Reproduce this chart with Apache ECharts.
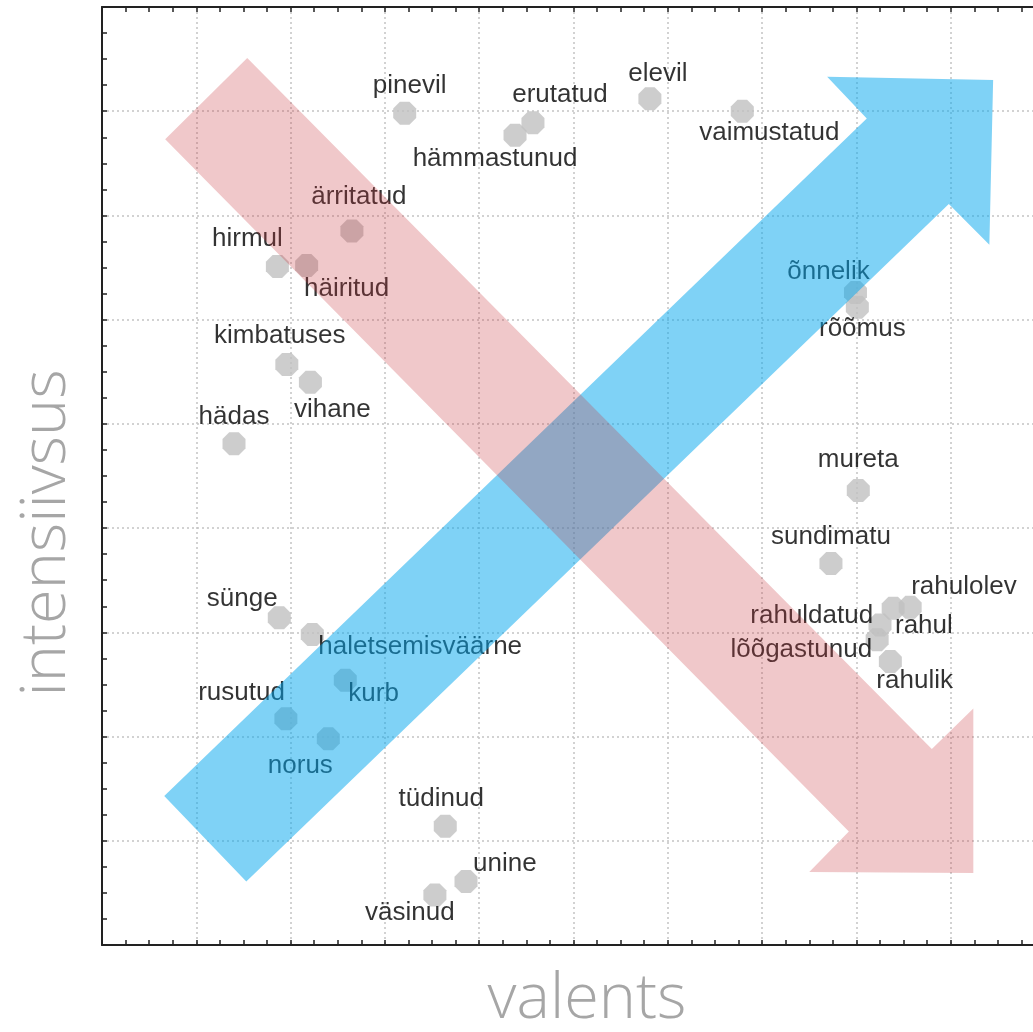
<!DOCTYPE html>
<html>
<head>
<meta charset="utf-8">
<script src="https://cdn.jsdelivr.net/npm/echarts@6/dist/echarts.min.js"></script>
<style>
  html, body { margin: 0; padding: 0; background: #fff; }
  #chart { width: 1033px; height: 1032px; }
</style>
</head>
<body>
<div id="chart"></div>
<script>
// emotion words, valence (x) and intensity (y)
const words = ['pinevil', 'erutatud', 'hämmastunud', 'elevil', 'vaimustatud', 'ärritatud', 'hirmul', 'häiritud',
  'kimbatuses', 'vihane', 'hädas', 'õnnelik', 'rõõmus', 'mureta', 'sundimatu', 'rahulolev', 'rahuldatud', 'rahul',
  'lõõgastunud', 'rahulik', 'sünge', 'haletsemisväärne', 'kurb', 'rusutud', 'norus', 'tüdinud', 'unine', 'väsinud']
const valence = [3.21, 4.57, 4.38, 5.81, 6.79, 2.65, 1.86, 2.17,
  1.96, 2.21, 1.40, 7.99, 8.01, 8.02, 7.73, 8.57, 8.39, 8.25,
  8.22, 8.36, 1.88, 2.23, 2.58, 1.95, 2.40, 3.64, 3.86, 3.53]
const intensity = [7.98, 7.89, 7.77, 8.12, 8.00, 6.85, 6.51, 6.52,
  5.57, 5.40, 4.81, 6.26, 6.12, 4.36, 3.66, 3.24, 3.23, 3.07,
  2.93, 2.72, 3.14, 2.98, 2.54, 2.17, 1.98, 1.14, 0.61, 0.48]

// the two arrows, outline in data units
const blueArrow = [[0.66, 1.43], [8.11, 7.93], [7.69, 8.33], [9.45, 8.30], [9.41, 6.72], [8.98, 7.11], [1.53, 0.61]]
const pinkArrow = [[0.67, 7.73], [1.54, 8.51], [8.80, 1.88], [9.24, 2.27], [9.24, 0.69], [7.50, 0.70], [7.92, 1.09]]

// label placement: [align, dx, dy] from point centre
const labelPlace = {
  'pinevil': ['center', 5, -27], 'erutatud': ['center', 27, -28], 'hämmastunud': ['center', -20, 24],
  'elevil': ['center', 8, -25], 'vaimustatud': ['center', 27, 22], 'ärritatud': ['center', 7, -34],
  'hirmul': ['center', -30, -28], 'häiritud': ['center', 40, 23], 'kimbatuses': ['center', -7, -29],
  'vihane': ['center', 22, 28], 'hädas': ['center', 0, -27], 'õnnelik': ['center', -27, -21],
  'rõõmus': ['center', 5, 22], 'mureta': ['center', 0, -31], 'sundimatu': ['center', 0, -27],
  'rahulolev': ['left', 1, -20], 'rahuldatud': ['right', -20, 7], 'rahul': ['left', 15, 1],
  'lõõgastunud': ['right', -5, 10], 'rahulik': ['left', -14, 19], 'sünge': ['center', -37, -19],
  'haletsemisväärne': ['left', 6, 12], 'kurb': ['left', 3, 14], 'rusutud': ['right', -1, -26],
  'norus': ['center', -28, 27], 'tüdinud': ['center', -4, -27], 'unine': ['left', 7, -18],
  'väsinud': ['center', -25, 18]
}

const octagon = 'path://M29.3,0L70.7,0L100,29.3L100,70.7L70.7,100L29.3,100L0,70.7L0,29.3Z'

const points = words.map((w, i) => {
  const p = labelPlace[w]
  return {
    name: w,
    value: [valence[i], intensity[i]],
    label: { align: p[0], offset: [p[1], p[2]] }
  }
})

const chart = echarts.init(document.getElementById('chart'))

const axisBase = {
  type: 'value',
  axisLine: { show: true, onZero: false, lineStyle: { color: '#222', width: 2 } },
  axisTick: { show: true, inside: true, length: 5, lineStyle: { color: '#222', width: 1.5 } },
  minorTick: { show: true, splitNumber: 4, length: 5, lineStyle: { color: '#222', width: 1.5 } },
  axisLabel: { show: false }
}
const gridLine = { show: true, lineStyle: { color: '#c4c4c4', type: [2, 3], width: 1.5 } }

const option = {
  animation: false,
  backgroundColor: '#fff',
  grid: { left: 102, top: 7, width: 943, height: 938, outerBoundsMode: 'none', containLabel: false },
  xAxis: [
    Object.assign({}, axisBase, { min: 0, max: 10, interval: 1, position: 'bottom', splitLine: gridLine }),
    Object.assign({}, axisBase, { min: 0, max: 10, interval: 1, position: 'top', splitLine: { show: false } })
  ],
  yAxis: [
    Object.assign({}, axisBase, { min: 0, max: 9, interval: 1, position: 'left', splitLine: gridLine })
  ],
  graphic: [
    {
      type: 'text', x: 587, y: 1000, silent: true,
      style: { text: 'valents', fill: '#a6a6a6', font: '300 63px "Open Sans"', align: 'center', verticalAlign: 'middle' }
    },
    {
      type: 'text', x: 47, y: 533, rotation: Math.PI / 2, silent: true,
      style: { text: 'intensiivsus', fill: '#a6a6a6', font: '300 63px "Open Sans"', align: 'center', verticalAlign: 'middle' }
    }
  ],
  series: [
    {
      type: 'scatter',
      z: 2,
      symbol: octagon,
      symbolSize: 23,
      itemStyle: { color: '#c0c0c0' },
      label: {
        show: true,
        position: 'inside',
        formatter: '{b}',
        color: '#000',
        fontSize: 26,
        fontFamily: 'Liberation Sans',
        verticalAlign: 'middle'
      },
      data: points
    },
    {
      type: 'custom',
      z: 10,
      silent: true,
      clip: false,
      data: [0, 1],
      renderItem: (params, api) => {
        const outline = params.dataIndex === 0 ? blueArrow : pinkArrow
        const fill = params.dataIndex === 0 ? 'rgba(0,165,238,0.5)' : 'rgba(200,50,58,0.27)'
        return {
          type: 'polygon',
          shape: { points: outline.map(v => api.coord(v)) },
          style: { fill: fill }
        }
      }
    }
  ]
}

chart.setOption(option)
</script>
</body>
</html>
